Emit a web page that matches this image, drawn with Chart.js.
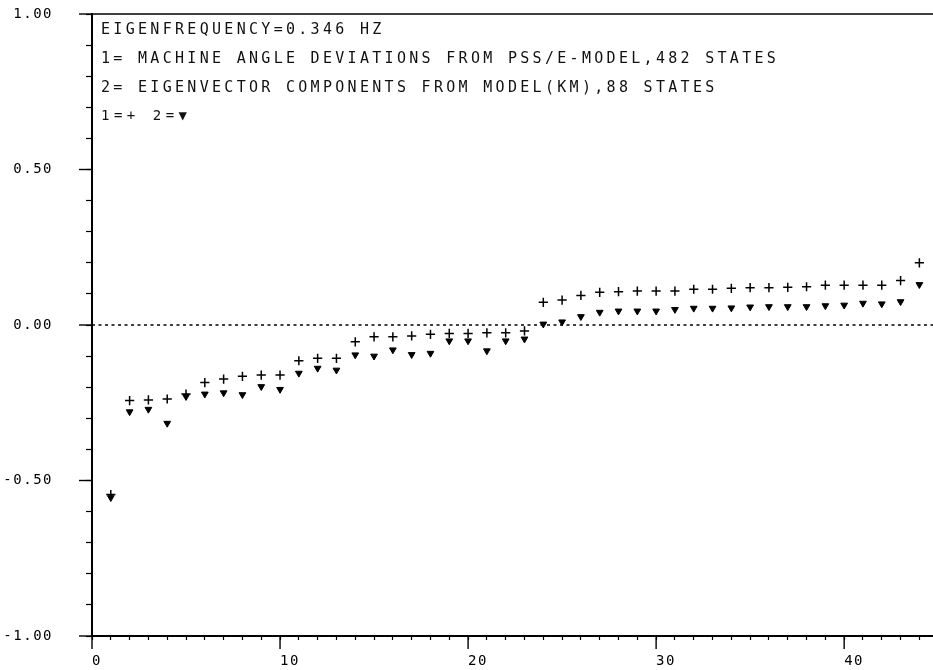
<!DOCTYPE html>
<html><head><meta charset="utf-8">
<style>html,body{margin:0;padding:0;background:#fff;}#wrap{width:933px;height:670px;}</style>
<script src="https://cdn.jsdelivr.net/npm/chart.js@4.4.1/dist/chart.umd.min.js"></script>
</head><body><div id="wrap"><canvas id="c" width="933" height="670"></canvas></div>
<script>
// ---- data ----
const stateIndex = [1,2,3,4,5,6,7,8,9,10,11,12,13,14,15,16,17,18,19,20,21,22,23,24,25,26,27,28,29,30,31,32,33,34,35,36,37,38,39,40,41,42,43,44];
const pssEAngles = [-0.545,-0.243,-0.241,-0.238,-0.222,-0.185,-0.174,-0.165,-0.161,-0.161,-0.115,-0.107,-0.107,-0.054,-0.038,-0.038,-0.035,-0.030,-0.027,-0.027,-0.025,-0.025,-0.019,0.073,0.080,0.095,0.105,0.107,0.109,0.109,0.109,0.115,0.115,0.118,0.120,0.120,0.121,0.123,0.128,0.128,0.128,0.128,0.143,0.200];
const kmEigenvector = [-0.555,-0.279,-0.271,-0.316,-0.230,-0.222,-0.218,-0.224,-0.198,-0.207,-0.155,-0.139,-0.145,-0.096,-0.100,-0.080,-0.095,-0.091,-0.051,-0.051,-0.083,-0.051,-0.045,0.003,0.010,0.027,0.041,0.045,0.045,0.045,0.050,0.054,0.054,0.055,0.058,0.059,0.059,0.059,0.062,0.064,0.070,0.068,0.075,0.130];
const zeroLineX = [0, 44.8];
const xRange = [0, 44.4];
const yRange = [-1, 1];
const xMajorTicks = [0, 10, 20, 30, 40];
const yMajorTicks = [-1, -0.5, 0, 0.5, 1];
const annotationLines = [
  'EIGENFREQUENCY=0.346 HZ',
  '1= MACHINE ANGLE DEVIATIONS FROM PSS/E-MODEL,482 STATES',
  '2= EIGENVECTOR COMPONENTS FROM MODEL(KM),88 STATES',
  '1=+ 2=\u25BC'
];

const FONT = '"DejaVu Sans Mono", "Liberation Mono", monospace';
const toPts = (xs, ys) => xs.map((x, i) => ({x, y: ys[i]}));

const framePlugin = {
  id: 'frame',
  beforeDraw(chart) { chart.ctx.letterSpacing = '1.5px'; },
  afterDraw(chart) {
    const {ctx, chartArea: a, scales: {x, y}} = chart;
    ctx.save();
    ctx.strokeStyle = '#000';
    // top frame line, running off the right edge like the original plot
    ctx.lineWidth = 1.6;
    ctx.beginPath(); ctx.moveTo(a.left, a.top); ctx.lineTo(chart.width, a.top); ctx.stroke();
    // continue the x axis line to the page edge
    ctx.lineWidth = 2;
    ctx.beginPath(); ctx.moveTo(a.right - 1, a.bottom); ctx.lineTo(chart.width, a.bottom); ctx.stroke();
    // major ticks
    ctx.lineWidth = 1.4;
    yMajorTicks.forEach(v => {
      const py = y.getPixelForValue(v);
      ctx.beginPath(); ctx.moveTo(a.left - 13, py); ctx.lineTo(a.left, py); ctx.stroke();
    });
    xMajorTicks.forEach(v => {
      const px = x.getPixelForValue(v);
      ctx.beginPath(); ctx.moveTo(px, a.bottom); ctx.lineTo(px, a.bottom + 13); ctx.stroke();
    });
    // annotation text
    ctx.fillStyle = '#111';
    ctx.textBaseline = 'middle';
    ctx.textAlign = 'left';
    const ys = [30, 59, 88, 116];
    annotationLines.forEach((t, i) => {
      if (i === 3) { ctx.font = '14px ' + FONT; ctx.letterSpacing = '4.5px'; }
      else { ctx.font = '15px ' + FONT; ctx.letterSpacing = '3.3px'; }
      ctx.fillText(t, a.left + 9, ys[i]);
    });
    ctx.restore();
  }
};

new Chart(document.getElementById('c').getContext('2d'), {
  type: 'scatter',
  data: {
    datasets: [
      {
        label: 'zero', type: 'line', data: toPts(zeroLineX, [0, 0]), clip: false,
        borderColor: '#000', borderWidth: 1.4, borderDash: [3, 3.5],
        pointRadius: 0, fill: false
      },
      {
        label: '1', data: toPts(stateIndex, pssEAngles),
        pointStyle: 'cross', pointRadius: 4.6, borderColor: '#000', borderWidth: 1.5,
        backgroundColor: '#000'
      },
      {
        label: '2', data: toPts(stateIndex, kmEigenvector),
        pointStyle: 'triangle', pointRotation: 180, pointRadius: 3.9,
        backgroundColor: '#000', borderColor: '#000', borderWidth: 1
      }
    ]
  },
  options: {
    responsive: false, animation: false, devicePixelRatio: 1,
    layout: {padding: {top: 14, left: 0, right: 0, bottom: 0}},
    plugins: {legend: {display: false}, tooltip: {enabled: false}},
    scales: {
      x: {
        type: 'linear', min: xRange[0], max: xRange[1],
        afterFit(s) { s.height = 34; s.paddingLeft = 0; s.paddingRight = 0; },
        ticks: {
          stepSize: 1, includeBounds: false, autoSkip: false, maxRotation: 0, minRotation: 0,
          maxTicksLimit: 100, align: 'start', padding: 14, color: '#000',
          font: {family: FONT, size: 14, lineHeight: 1},
          callback: v => (Math.round(v) % 10 === 0 ? String(Math.round(v)) : '')
        },
        grid: {drawOnChartArea: false, tickLength: 4, tickColor: '#000', tickWidth: 1.2},
        border: {color: '#000', width: 2}
      },
      y: {
        type: 'linear', min: yRange[0], max: yRange[1],
        afterFit(s) { s.width = 92; s.paddingTop = 0; s.paddingBottom = 0; },
        ticks: {
          stepSize: 0.1, autoSkip: false, maxTicksLimit: 100, padding: 33, color: '#000',
          font: {family: FONT, size: 14, lineHeight: 1},
          callback: v => { const r = Math.round(v * 10); return r % 5 === 0 ? (r / 10).toFixed(2) : ''; }
        },
        grid: {drawOnChartArea: false, tickLength: 6, tickColor: '#000', tickWidth: 1.2},
        border: {color: '#000', width: 2}
      }
    }
  },
  plugins: [framePlugin]
});
</script>
</body></html>
